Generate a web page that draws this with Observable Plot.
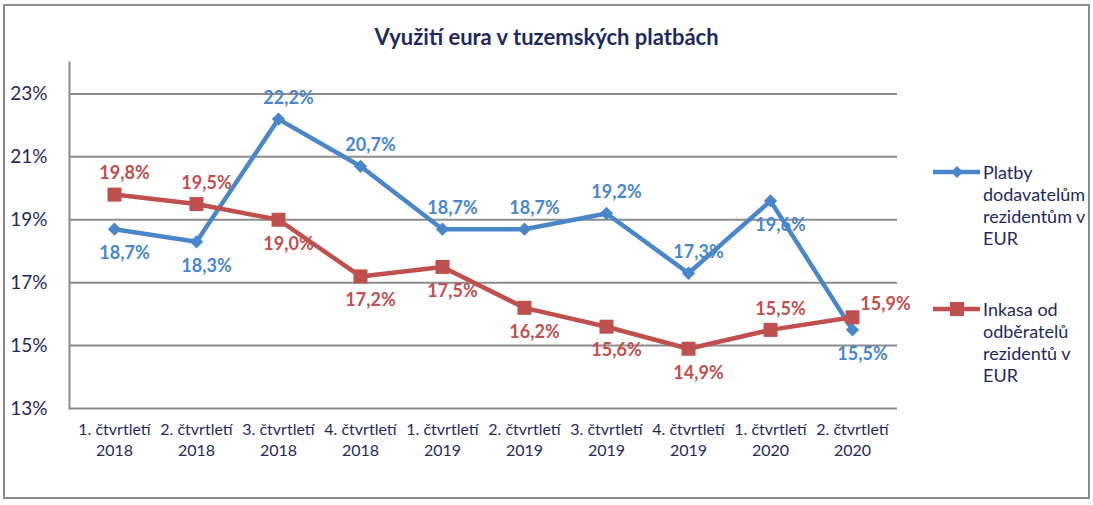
<!DOCTYPE html>
<html><head><meta charset="utf-8">
<script src="https://cdn.jsdelivr.net/npm/d3@7"></script>
<script src="https://cdn.jsdelivr.net/npm/@observablehq/plot@0.6"></script>
<style>
body{margin:0;background:#fff;font-family:Lato,"Open Sans",sans-serif;width:1093px;height:505px;overflow:hidden;position:relative;}
#frame{position:absolute;left:3px;top:4px;width:1083px;height:491px;border:2px solid #8c8c8c;pointer-events:none;z-index:2;}
#title{position:absolute;left:0;top:24px;width:1093px;text-align:center;font-weight:bold;font-size:22px;line-height:26px;color:#1f2a5a;z-index:1;}
#chart{position:absolute;left:0;top:0;}
.legtext{position:absolute;left:983px;font-size:18px;line-height:22px;color:#1f2a5a;z-index:1;}
.legsym{position:absolute;left:930px;z-index:1;}
</style>
</head><body>
<div id="chart"></div>
<div id="title">Využití eura v tuzemských platbách</div>
<div id="legend"></div>
<div id="frame"></div>
<script>
const quarters = ["1. čtvrtletí\n2018","2. čtvrtletí\n2018","3. čtvrtletí\n2018","4. čtvrtletí\n2018","1. čtvrtletí\n2019","2. čtvrtletí\n2019","3. čtvrtletí\n2019","4. čtvrtletí\n2019","1. čtvrtletí\n2020","2. čtvrtletí\n2020"];
const platby = [18.7, 18.3, 22.2, 20.7, 18.7, 18.7, 19.2, 17.3, 19.6, 15.5];
const inkasa = [19.8, 19.5, 19.0, 17.2, 17.5, 16.2, 15.6, 14.9, 15.5, 15.9];
const yTicks = [13, 15, 17, 19, 21, 23];
const seriesNames = [["Platby","dodavatelům","rezidentům v","EUR"],["Inkasa od","odběratelů","rezidentů v","EUR"]];
// label placement relative to the point (style choice, mirrors the original)
const platbyLabelPos = ["below","below","above","above","above","above","above","above","below","below"];
const inkasaLabelPos = ["above","above","below","below","below","below","below","below","above","right"];

const BLUE = "#4a87c9", RED = "#c0504d", NAVY = "#1f2a5a", GRID = "#8c8c8c";
const fmt = v => v.toFixed(1).replace(".", ",") + "%";

const blueRows = quarters.map((q, i) => ({q, v: platby[i], pos: platbyLabelPos[i]}));
const redRows = quarters.map((q, i) => ({q, v: inkasa[i], pos: inkasaLabelPos[i]}));

function labels(rows, color) {
  const common = {x: "q", y: "v", text: d => fmt(d.v), fill: color, fontSize: 18, fontWeight: "bold"};
  return [
    Plot.text(rows.filter(d => d.pos === "above"), {...common, dy: -21, dx: 10}),
    Plot.text(rows.filter(d => d.pos === "below"), {...common, dy: 24, dx: 10}),
    Plot.text(rows.filter(d => d.pos === "right"), {...common, dy: -13, dx: 33})
  ];
}

const chart = Plot.plot({
  width: 1093, height: 505,
  marginLeft: 69, marginRight: 196, marginTop: 62, marginBottom: 97,
  style: {fontFamily: "Lato, 'Open Sans', sans-serif", color: NAVY, background: "transparent"},
  x: {type: "point", domain: quarters, padding: 0.5, label: null},
  y: {domain: [13, 24], label: null},
  marks: [
    Plot.ruleY(yTicks, {stroke: GRID, strokeWidth: 2}),
    Plot.frame({anchor: "left", stroke: GRID, strokeWidth: 2}),
    Plot.axisY(yTicks, {tickSize: 0, tickPadding: 22, tickFormat: d => d + "%", fontSize: 19, fill: NAVY, label: null}),
    Plot.axisX({tickSize: 0, tickPadding: 12, fontSize: 16, lineHeight: 1.3, fill: NAVY, label: null}),
    Plot.line(blueRows, {x: "q", y: "v", stroke: BLUE, strokeWidth: 4.5}),
    Plot.dot(blueRows, {x: "q", y: "v", symbol: "diamond2", fill: BLUE, stroke: "none", r: 6}),
    Plot.line(redRows, {x: "q", y: "v", stroke: RED, strokeWidth: 4.5}),
    Plot.dot(redRows, {x: "q", y: "v", symbol: "square", fill: RED, stroke: "none", r: 7.9}),
    ...labels(blueRows, BLUE),
    ...labels(redRows, RED)
  ]
});
document.getElementById("chart").appendChild(chart);

// legend
const legend = document.getElementById("legend");
const legY = [172, 309];
const legColors = [BLUE, RED];
seriesNames.forEach((lines, i) => {
  const s = document.createElementNS("http://www.w3.org/2000/svg", "svg");
  s.setAttribute("class", "legsym");
  s.setAttribute("width", 54); s.setAttribute("height", 20);
  s.style.top = (legY[i] - 10) + "px";
  const sym = i === 0
    ? `<path d="M27,4 L33,10 L27,16 L21,10 Z" fill="${legColors[i]}"/>`
    : `<rect x="20" y="3" width="14" height="14" fill="${legColors[i]}"/>`;
  s.innerHTML = `<line x1="3" x2="50" y1="10" y2="10" stroke="${legColors[i]}" stroke-width="4.5"/>` + sym;
  legend.appendChild(s);
  const t = document.createElement("div");
  t.className = "legtext";
  t.style.top = (legY[i] - 11) + "px";
  t.innerHTML = lines.join("<br>");
  legend.appendChild(t);
});
</script>
</body></html>
